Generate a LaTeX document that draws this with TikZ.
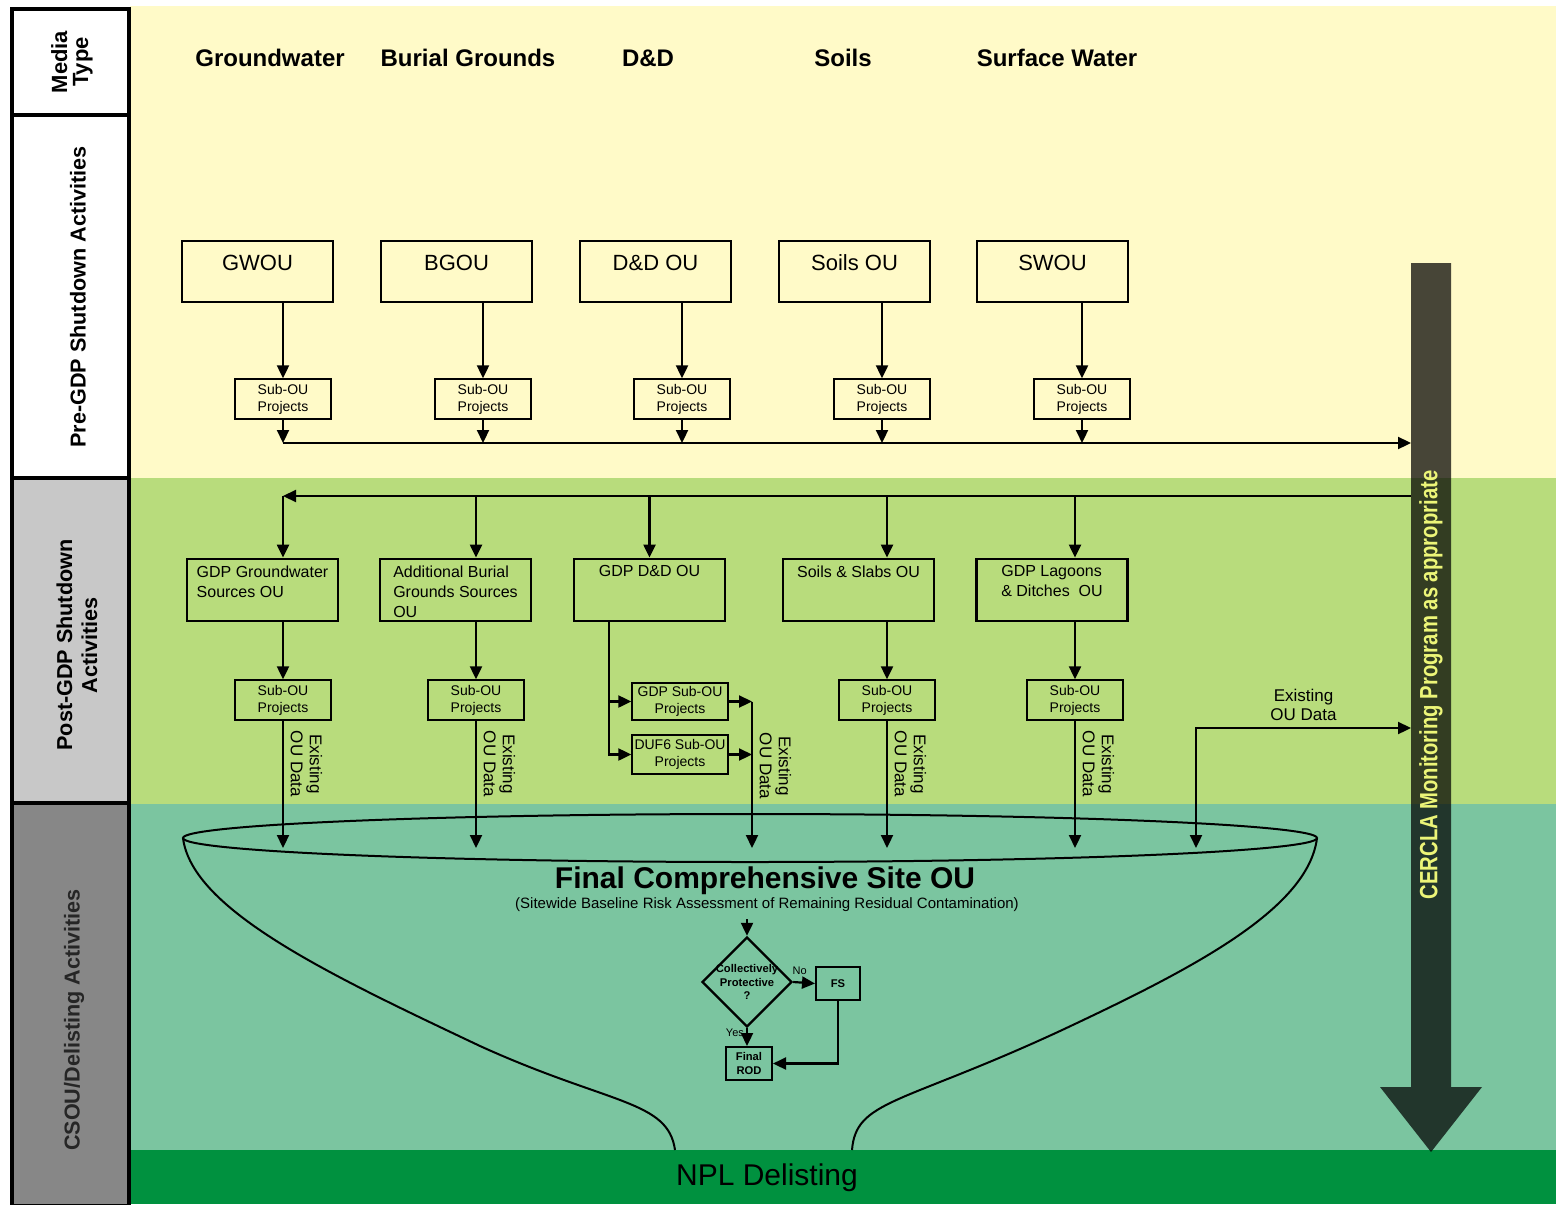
\documentclass[tikz,border=0pt]{standalone}
\usepackage{fontspec}
\setmainfont{Liberation Sans}
\usetikzlibrary{arrows.meta, positioning, shapes.geometric}

\definecolor{bandyellow}{RGB}{255,250,200}
\definecolor{bandgreen}{RGB}{184,220,124}
\definecolor{bandteal}{RGB}{123,197,160}
\definecolor{banddark}{RGB}{0,145,63}
\definecolor{lanelight}{RGB}{200,200,200}
\definecolor{lanedark}{RGB}{135,135,135}
\definecolor{cerclayellow}{RGB}{236,245,120}

\begin{document}
\begin{tikzpicture}[x=0.5pt, y=-0.5pt,
  >={Triangle[length=6.5pt, width=6pt]},
  flow/.style={line width=1.1pt, ->},
  head/.style={font=\bfseries\fontsize{12}{14}\selectfont},
  lane/.style={rotate=90, align=center, font=\bfseries\fontsize{10.8}{12.5}\selectfont},
  topbox/.style={draw, line width=1.4pt, minimum width=75.5pt, minimum height=30.5pt,
    label={[anchor=north, yshift=-4pt, font=\fontsize{11}{13}\selectfont]north:#1}},
  postbox/.style={draw, line width=1.4pt, minimum width=75.5pt, minimum height=31pt,
    label={[anchor=north, yshift=-0.5pt, align=left, font=\fontsize{8}{10}\selectfont]north:#1}},
  subbox/.style={draw, line width=0.7pt, minimum width=48pt, minimum height=20pt, inner sep=1pt,
    align=center, font=\fontsize{7}{8.5}\selectfont},
  datalbl/.style={rotate=-90, align=center, font=\fontsize{8.5}{9.5}\selectfont},
  small/.style={font=\bfseries\fontsize{5.6}{6.8}\selectfont, align=center}
]
\useasboundingbox (0,0) rectangle (1556,1204);

% bands
\fill[bandyellow] (130,6) rectangle (1556,478);
\fill[bandgreen] (130,478) rectangle (1556,804);
\fill[bandteal] (130,804) rectangle (1556,1150);
\fill[banddark] (130,1150) rectangle (1556,1204);

% lane column
\draw[line width=2pt, fill=white] (12,9) rectangle (129,115);
\draw[line width=2pt, fill=white] (12,115) rectangle (129,478);
\draw[line width=2pt, fill=lanelight] (12,478) rectangle (129,803);
\draw[line width=2pt, fill=lanedark] (12,803) rectangle (129,1206);

\node[lane, font=\bfseries\fontsize{11}{10.5}\selectfont] (lmedia) at (72,62) {Media\\Type};
\node[lane] (lpre) at (78,297) {Pre-GDP Shutdown Activities};
\node[lane] (lpost) at (77,645) {Post-GDP Shutdown\\Activities};
\node[lane, text=black!85] (lcsou) at (74,1020) {CSOU/Delisting Activities};

% media headers
\node[head] (hgw) at (270,58) {Groundwater};
\node[head] (hbg) at (468,58) {Burial Grounds};
\node[head] (hdd) at (648,58) {D\&D};
\node[head] (hsoil) at (843,58) {Soils};
\node[head] (hsw) at (1057,58) {Surface Water};

% monitoring arrow
\fill[black, opacity=0.72] (1411,263) -- (1451,263) -- (1451,1087) -- (1482,1087)
  -- (1431,1152) -- (1380,1087) -- (1411,1087) -- cycle;
\node[rotate=90, text=cerclayellow, font=\bfseries\fontsize{12.5}{14}\selectfont] (cercla)
  at (1431,685) {\scalebox{0.81}[1]{CERCLA Monitoring Program as appropriate}};

\coordinate (monin) at (1411,443);
\coordinate (monout) at (1411,496);
\coordinate (mondata) at (1411,728);
\coordinate (rim) at (750,848);

% funnel
\draw[line width=1pt] (750,838) ellipse [x radius=567, y radius=24];
\draw[line width=1pt] (183,838) .. controls (192,910) and (330,975) .. (480,1046)
  .. controls (610,1105) and (668,1100) .. (675,1150);
\draw[line width=1pt] (1317,838) .. controls (1308,910) and (1190,970) .. (1060,1031)
  .. controls (900,1105) and (856,1100) .. (852,1150);

% pre-GDP
\node[topbox=GWOU] (gwou) at (257.5,271.5) {};
\node[topbox=BGOU] (bgou) at (456.5,271.5) {};
\node[topbox=D\&D OU] (ddou) at (655.5,271.5) {};
\node[topbox=Soils OU] (soilsou) at (854.5,271.5) {};
\node[topbox=SWOU] (swou) at (1052.5,271.5) {};

\node[subbox] (gwsub) at (283,399) {Sub-OU\\Projects};
\node[subbox] (bgsub) at (483,399) {Sub-OU\\Projects};
\node[subbox] (ddsub) at (682,399) {Sub-OU\\Projects};
\node[subbox] (sosub) at (882,399) {Sub-OU\\Projects};
\node[subbox] (swsub) at (1082,399) {Sub-OU\\Projects};

\foreach \ou/\sub in {gwou/gwsub, bgou/bgsub, ddou/ddsub, soilsou/sosub, swou/swsub} {
  \draw[flow] (\sub.north |- \ou.south) -- (\sub.north);
  \draw[flow] (\sub.south) -- (\sub.south |- monin);
}
\draw[flow] (gwsub.south |- monin) -- (monin);

% post-GDP
\coordinate (fbcorner) at (283,496);
\draw[flow] (monout) -- (fbcorner);

\node[postbox={GDP Groundwater\\Sources OU}] (gdpgw) at (262.5,590) {};
\node[postbox={Additional Burial\\Grounds Sources\\OU}] (addbg) at (455.5,590) {};
\node[postbox={GDP D\&D OU}] (gdpdd) at (649.5,590) {};
\node[postbox={Soils \& Slabs OU}] (slabs) at (858.5,590) {};
\node[postbox={GDP Lagoons\\\& Ditches\ \ OU}] (lagoon) at (1052,590) {};

\node[subbox] (gwpsub) at (283,700) {Sub-OU\\Projects};
\node[subbox] (bgpsub) at (476,700) {Sub-OU\\Projects};
\node[subbox] (slpsub) at (887,700) {Sub-OU\\Projects};
\node[subbox] (lgpsub) at (1075,700) {Sub-OU\\Projects};
\node[subbox, minimum height=18.5pt] (gdpsub) at (680,701.5) {GDP Sub-OU\\Projects};
\node[subbox, minimum height=19.5pt] (dufsub) at (680,754.5) {DUF6 Sub-OU\\Projects};

\foreach \sub/\ou in {gwpsub/gdpgw, bgpsub/addbg, slpsub/slabs, lgpsub/lagoon} {
  \draw[flow] (\sub.north |- monout) -- (\sub.north |- \ou.north);
  \draw[flow] (\sub.north |- \ou.south) -- (\sub.north);
  \draw[flow] (\sub.south) -- (\sub.south |- rim)
    node[datalbl, pos=0.34, anchor=south] {Existing\\OU Data};
}

\draw[flow] (gdpdd.north |- monout) -- (gdpdd.north);
\coordinate (ddtrunk) at (609,621);
\coordinate (ddjoin) at (752,701.5);
\draw[flow] (ddtrunk) |- (gdpsub.west);
\draw[flow] (ddtrunk) |- (dufsub.west);
\draw[flow] (gdpsub.east) -- (ddjoin);
\draw[flow] (dufsub.east) -- (dufsub.east -| ddjoin);
\draw[flow] (ddjoin) -- (ddjoin |- rim)
  node[datalbl, pos=0.44, anchor=south] (dddata) {Existing\\OU Data};

\coordinate (exdata) at (1196,728);
\draw[flow, <->] (exdata |- rim) -- (exdata) -- node[above, align=center,
  font=\fontsize{8.5}{9.5}\selectfont] (exlbl) {Existing\\OU Data} (mondata);

% final site OU
\node[font=\bfseries\fontsize{15}{17}\selectfont] (csou) at (765,881) {Final Comprehensive Site OU};
\node[font=\fontsize{7.5}{9}\selectfont] (csounote) at (767,905)
  {(Sitewide Baseline Risk Assessment of Remaining Residual Contamination)};
\node[diamond, draw, line width=1.2pt, minimum width=45pt, minimum height=45pt, inner sep=0pt,
  label={[small]center:Collectively\\Protective\\?}] (prot) at (747,982) {};
\node[draw, line width=1pt, minimum width=22pt, minimum height=16.5pt, small] (fs) at (838,983.5) {FS};
\node[draw, line width=1pt, minimum width=23pt, minimum height=16.5pt, inner sep=1pt, small]
  (rod) at (749,1063.5) {Final\\ROD};
\draw[flow] (prot.north |- csounote.south) -- (prot.north);
\draw[flow] (prot.east) -- node[pos=0.3, above, font=\fontsize{5.5}{6}\selectfont] (nolbl) {No} (fs.west);
\draw[flow] (prot.south) -- node[pos=0.25, left, inner sep=1pt, font=\fontsize{5.5}{6}\selectfont] (yeslbl) {Yes}
  (prot.south |- rod.north);
\draw[flow] (fs.south) |- (rod.east);

\node[font=\fontsize{15}{17}\selectfont] (npl) at (767,1178) {NPL Delisting};
\end{tikzpicture}
\end{document}
